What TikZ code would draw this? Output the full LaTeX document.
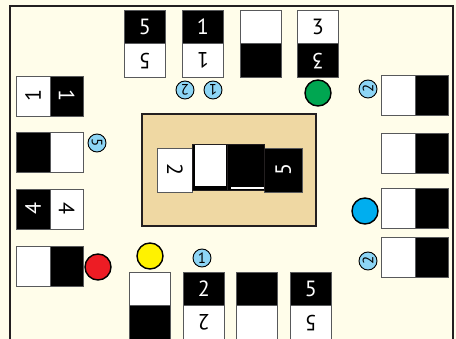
\documentclass[tikz,border=0pt]{standalone}
\usepackage{fontspec}
\setmainfont{PT Sans}
\definecolor{cream}{HTML}{FFFDEA}
\definecolor{frame}{HTML}{231F20}
\definecolor{tileedge}{HTML}{58595B}
\definecolor{tan}{HTML}{EFD8A3}
\definecolor{bubblue}{HTML}{8DD5F5}
\definecolor{tokgreen}{HTML}{00A651}
\definecolor{tokblue}{HTML}{00AEEF}
\definecolor{tokred}{HTML}{ED1C24}
\definecolor{tokyellow}{HTML}{FFF200}
\newcommand{\rr}[2]{\rotatebox[origin=c]{#1}{#2}}
\tikzset{
 hb/.style={draw=tileedge, line width=0.8pt, fill=black, text=white, inner sep=0pt, anchor=north west, font=\fontsize{22}{22}\selectfont},
 hw/.style={draw=tileedge, line width=0.8pt, fill=white, text=black, inner sep=0pt, anchor=north west, font=\fontsize{22}{22}\selectfont},
 vh/.style={minimum width=41pt, minimum height=33.5pt},
 hh/.style={minimum width=33.5pt, minimum height=40.5pt},
 bub/.style={circle, draw=black, line width=0.9pt, fill=bubblue, minimum size=18pt, inner sep=0pt, font=\fontsize{15}{15}\selectfont},
 tok/.style={circle, draw=black, line width=1.4pt, minimum size=26pt, inner sep=0pt},
}
\begin{document}
\begin{tikzpicture}[x=1pt,y=-1pt]
\fill[cream] (0,0) rectangle (456,339);
\useasboundingbox (0,0) rectangle (456,339);
\draw[frame, line width=2.5pt] (10,345) -- (10,6) -- (453,6) -- (453,345);
% top tiles
\node[hb,vh] (t1a) at (124,10) {5};
\node[hw,vh] (t1b) at (124,43.5) {\rr{180}{5}};
\node[hb,vh] (t2a) at (182,10) {1};
\node[hw,vh] (t2b) at (182,43.5) {\rr{180}{1}};
\node[hw,vh] (t3a) at (240,10) {};
\node[hb,vh] (t3b) at (240,43.5) {};
\node[hw,vh] (t4a) at (297,10) {3};
\node[hb,vh] (t4b) at (297,43.5) {\rr{180}{3}};
% left tiles
\node[hw,hh] (l1a) at (16,76) {\rr{90}{1}};
\node[hb,hh] (l1b) at (49.5,76) {\rr{-90}{1}};
\node[hb,hh] (l2a) at (16,132) {};
\node[hw,hh] (l2b) at (49.5,132) {};
\node[hb,hh] (l3a) at (16,189) {\rr{90}{4}};
\node[hw,hh] (l3b) at (49.5,189) {\rr{-90}{4}};
\node[hw,hh] (l4a) at (16,246) {};
\node[hb,hh] (l4b) at (49.5,246) {};
% right tiles
\node[hw,hh] (r1a) at (381,75) {};
\node[hb,hh] (r1b) at (414.5,75) {};
\node[hw,hh] (r2a) at (381,133) {};
\node[hb,hh] (r2b) at (414.5,133) {};
\node[hw,hh] (r3a) at (381,188) {};
\node[hb,hh] (r3b) at (414.5,188) {};
\node[hw,hh] (r4a) at (381,237) {};
\node[hb,hh] (r4b) at (414.5,237) {};
% bottom tiles
\node[hw,vh] (b1a) at (129,272) {};
\node[hb,vh] (b1b) at (129,305.5) {};
\node[hb,vh] (b2a) at (183,272) {2};
\node[hw,vh] (b2b) at (183,305.5) {\rr{180}{2}};
\node[hb,vh] (b3a) at (236,272) {};
\node[hw,vh] (b3b) at (236,305.5) {};
\node[hb,vh] (b4a) at (290,272) {5};
\node[hw,vh] (b4b) at (290,305.5) {\rr{180}{5}};
% centre box
\node[draw=frame, line width=2pt, fill=tan, anchor=north west, minimum width=174pt, minimum height=112pt, inner sep=0pt] (board) at (141,113) {};
\node[hw, minimum width=35pt, minimum height=44pt] (c2) at (157,148) {\rr{-90}{2}};
\node[hb, minimum width=38pt, minimum height=44pt] (c5) at (264,148) {\rr{90}{5}};
\node[draw=frame, line width=0.8pt, fill=black, anchor=north west, minimum width=35pt, minimum height=46pt, inner sep=0pt] (pa) at (192,144) {};
\fill[white] (194.5,145.5) rectangle (226,186);
\node[draw=frame, line width=0.8pt, fill=black, anchor=north west, minimum width=37pt, minimum height=46pt, inner sep=0pt] (pb) at (227,144) {};
\draw[white, line width=1.6pt] (231,188) -- (264,188);
% small numbered bubbles
\node[bub] (n1) at (185,90) {\rr{180}{2}};
\node[bub] (n2) at (213,90) {\rr{180}{1}};
\node[bub] (n3) at (368,89) {\rr{90}{2}};
\node[bub] (n4) at (97,143) {\rr{-90}{5}};
\node[bub] (n5) at (202,258) {1};
\node[bub] (n6) at (368,261) {\rr{90}{2}};
% tokens
\node[tok, fill=tokgreen] (g) at (318,93) {};
\node[tok, fill=tokblue] (bl) at (365,211) {};
\node[tok, fill=tokred] (rd) at (98,267) {};
\node[tok, fill=tokyellow] (ye) at (150,256) {};
\end{tikzpicture}
\end{document}
